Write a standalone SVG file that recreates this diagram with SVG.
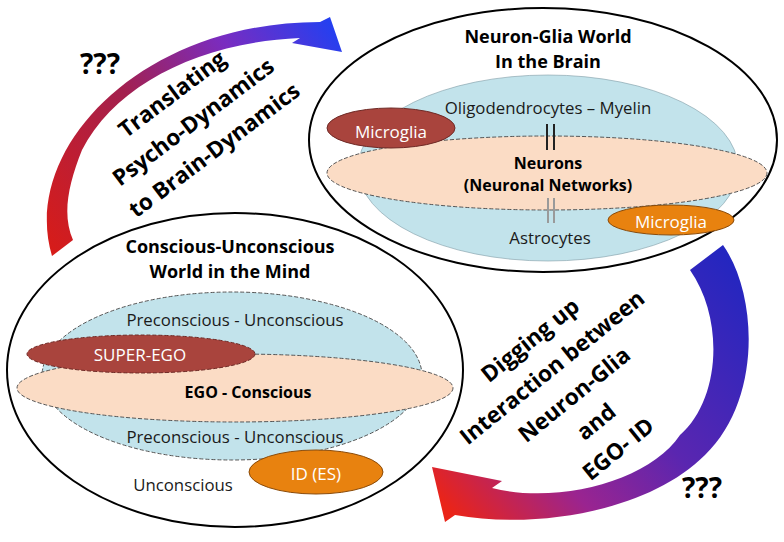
<svg xmlns="http://www.w3.org/2000/svg" width="784" height="542" viewBox="0 0 784 542">
<defs>
<style>
text{font-family:"Open Sans","Liberation Sans",sans-serif;text-anchor:middle;fill:#1a1a1a}
.b{font-weight:bold}
.n{font-size:16.8px}
.h{font-size:18px;font-weight:bold;fill:#000}
.ib{font-size:16px;font-weight:bold;fill:#000}
.big{font-size:22.5px;font-weight:bold;fill:#000}
.q{font-size:28px;font-weight:bold;fill:#000}
.w{fill:#fff;font-size:17px}
.outer{fill:none;stroke:#000;stroke-width:2}
.blue{fill:#c2e3eb}
.peach{fill:#fbdcc5;stroke:#555;stroke-width:1;stroke-dasharray:4 2}
.red{fill:#a9443d;stroke:#6e2a26;stroke-width:1}
.orange{fill:#e8820f;stroke:#8a4a08;stroke-width:1}
</style>
<linearGradient id="g1" gradientUnits="userSpaceOnUse" x1="40" y1="240" x2="340" y2="30">
<stop offset="0" stop-color="#d81c18"/>
<stop offset="0.42" stop-color="#a3204e"/>
<stop offset="0.72" stop-color="#7a2cc0"/>
<stop offset="1" stop-color="#2140f2"/>
</linearGradient>
<linearGradient id="g2" gradientUnits="userSpaceOnUse" x1="725" y1="250" x2="440" y2="500">
<stop offset="0" stop-color="#2326c0"/>
<stop offset="0.45" stop-color="#5a26b0"/>
<stop offset="0.72" stop-color="#9a2490"/>
<stop offset="1" stop-color="#ea2418"/>
</linearGradient>
</defs>
<rect width="784" height="542" fill="#fff"/>

<g id="connectors">
<path d="M52 256 C20 150 140 22 320 22 L330 17 L342 52 L292 43 L300 38 C200 42 115 85 82 150 C68 185 62 215 73 240 Z" fill="url(#g1)"/>
<path d="M690 270 L723 245 C758 295 762 400 705 455 C650 510 540 530 455 515 L445 522 L432 467 L502 481 L492 488 C560 505 650 480 680 435 C720 400 725 320 690 270 Z" fill="url(#g2)"/>
</g>

<g id="mind">
<ellipse class="outer" cx="235" cy="370" rx="228" ry="157"/>
<ellipse class="blue" cx="232" cy="376" rx="190" ry="84" stroke="#555" stroke-width="1" stroke-dasharray="4 2"/>
<text class="n" x="235" y="326">Preconscious - Unconscious</text>
<text class="n" x="235" y="443">Preconscious - Unconscious</text>
<ellipse class="peach" cx="235" cy="388" rx="218" ry="34" stroke-dasharray="6 2 1 2"/>
<ellipse class="red" cx="141" cy="354" rx="114" ry="19" stroke-dasharray="4 2"/>
<text class="w" x="140" y="361">SUPER-EGO</text>
<text class="ib" x="248" y="398">EGO - Conscious</text>
<ellipse class="orange" cx="316" cy="472" rx="67" ry="22"/>
<text class="w" x="316" y="480">ID (ES)</text>
<text class="n" x="183" y="491">Unconscious</text>
<text class="h" x="230" y="253">Conscious-Unconscious</text>
<text class="h" x="230" y="278">World in the Mind</text>
</g>

<g id="brain">
<ellipse class="outer" cx="543" cy="140" rx="234" ry="132"/>
<ellipse class="blue" cx="548" cy="168" rx="190" ry="93" stroke="#7d9aa4" stroke-width="0.6"/>
<text class="n" x="548" y="114">Oligodendrocytes – Myelin</text>
<ellipse class="peach" cx="547" cy="173" rx="220" ry="37"/>
<line x1="547" y1="124" x2="547" y2="150" stroke="#222" stroke-width="2"/>
<line x1="554" y1="124" x2="554" y2="150" stroke="#222" stroke-width="2"/>
<text class="ib" x="548" y="169">Neurons</text>
<text class="ib" x="548" y="191">(Neuronal Networks)</text>
<line x1="548" y1="198" x2="548" y2="223" stroke="#9a9a9a" stroke-width="2"/>
<line x1="554" y1="198" x2="554" y2="223" stroke="#9a9a9a" stroke-width="2"/>
<text class="n" x="550" y="244">Astrocytes</text>
<ellipse class="red" cx="391" cy="128" rx="64" ry="20"/>
<text class="w" x="391" y="138">Microglia</text>
<ellipse class="orange" cx="671" cy="220" rx="63" ry="15"/>
<text class="w" x="671" y="228">Microglia</text>
<text class="h" x="548" y="43">Neuron-Glia World</text>
<text class="h" x="548" y="68">In the Brain</text>
</g>

<g id="label-translate" transform="translate(172,94) rotate(-37)">
<text class="big" x="0" y="8">Translating</text>
<text class="big" x="0" y="43">Psycho-Dynamics</text>
<text class="big" x="0" y="78">to Brain-Dynamics</text>
</g>
<g id="label-digging" transform="translate(530,340) rotate(-39)">
<text class="big" x="0" y="8">Digging up</text>
<text class="big" x="0" y="43">Interaction between</text>
<text class="big" x="0" y="78">Neuron-Glia</text>
<text class="big" x="0" y="113">and</text>
<text class="big" x="0" y="148">EGO- ID</text>
</g>
<text class="q" x="100" y="74">???</text>
<text class="q" x="702" y="498">???</text>
</svg>
